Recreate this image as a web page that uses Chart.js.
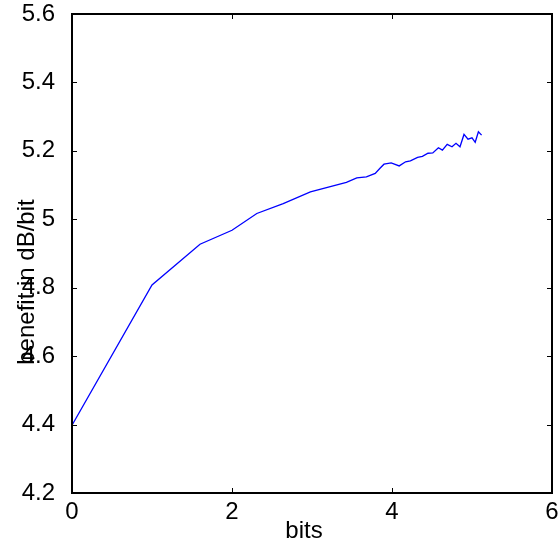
<!DOCTYPE html>
<html>
<head>
<meta charset="utf-8">
<script src="https://cdn.jsdelivr.net/npm/chart.js@4.4.1/dist/chart.umd.min.js"></script>
<style>
  html, body { margin: 0; padding: 0; background: #fff; }
  #wrap { width: 558px; height: 544px; position: relative; }
</style>
</head>
<body>
<div id="wrap"><canvas id="grafico"></canvas></div>
<script>
// dados
var bits = [0, 1, 1.6, 2, 2.31, 2.64, 2.98, 3.43, 3.56, 3.68, 3.79, 3.85, 3.9, 3.99, 4.09, 4.17, 4.23, 4.32, 4.38, 4.45, 4.51, 4.58, 4.63, 4.69, 4.75, 4.8, 4.85, 4.9, 4.95, 5.0, 5.04, 5.08, 5.12];
var beneficio = [4.398, 4.808, 4.927, 4.968, 5.017, 5.046, 5.08, 5.108, 5.121, 5.124, 5.134, 5.149, 5.161, 5.165, 5.156, 5.168, 5.171, 5.181, 5.184, 5.193, 5.194, 5.209, 5.202, 5.219, 5.212, 5.222, 5.212, 5.248, 5.234, 5.238, 5.225, 5.256, 5.246];
var xTicks = [0, 2, 4, 6];
var yTicks = [4.2, 4.4, 4.6, 4.8, 5, 5.2, 5.4, 5.6];

var pontos = bits.map(function (b, i) { return { x: b, y: beneficio[i] }; });

var fonte = "'Liberation Sans', Arial, Helvetica, sans-serif";

// moldura, ticks para dentro e titulos dos eixos (estilo matlab)
var moldura = {
  id: "moldura",
  afterDraw: function (chart) {
    var ctx = chart.ctx;
    var a = chart.chartArea;
    var sx = chart.scales.x, sy = chart.scales.y;
    var tl = 5;
    ctx.save();
    ctx.strokeStyle = "#000";
    ctx.lineWidth = 1;
    ctx.beginPath();
    xTicks.forEach(function (v) {
      var px = Math.round(sx.getPixelForValue(v)) + 0.5;
      ctx.moveTo(px, a.bottom); ctx.lineTo(px, a.bottom - tl);
      ctx.moveTo(px, a.top); ctx.lineTo(px, a.top + tl);
    });
    yTicks.forEach(function (v) {
      var py = Math.round(sy.getPixelForValue(v)) + 0.5;
      ctx.moveTo(a.left, py); ctx.lineTo(a.left + tl, py);
      ctx.moveTo(a.right, py); ctx.lineTo(a.right - tl, py);
    });
    ctx.stroke();
    ctx.lineWidth = 2;
    ctx.strokeRect(a.left, a.top, a.right - a.left, a.bottom - a.top);

    ctx.fillStyle = "#000";
    ctx.font = "24px " + fonte;
    ctx.textAlign = "center";
    ctx.textBaseline = "alphabetic";
    ctx.fillText("bits", 304, 538);
    ctx.translate(34, 282);
    ctx.rotate(-Math.PI / 2);
    ctx.fillText("benefit in dB/bit", 0, 0);
    ctx.restore();
  }
};

new Chart(document.getElementById("grafico"), {
  type: "scatter",
  data: {
    datasets: [{
      data: pontos,
      showLine: true,
      borderColor: "#0000ff",
      borderWidth: 1.3,
      pointRadius: 0,
      tension: 0
    }]
  },
  options: {
    responsive: true,
    maintainAspectRatio: false,
    animation: false,
    layout: { padding: { top: 14, right: 6, left: 0, bottom: 0 } },
    plugins: { legend: { display: false }, tooltip: { enabled: false } },
    scales: {
      x: {
        type: "linear",
        min: 0, max: 6,
        afterFit: function (s) {
          s.height = 51;
          s.paddingLeft = 0; s.paddingRight = 0;
        },
        afterBuildTicks: function (s) { s.ticks = xTicks.map(function (v) { return { value: v }; }); },
        grid: { display: false },
        border: { display: false },
        ticks: {
          color: "#000",
          font: { family: fonte, size: 24 },
          padding: -3,
          maxRotation: 0,
          callback: function (v) { return String(v); }
        }
      },
      y: {
        type: "linear",
        min: 4.2, max: 5.6,
        afterFit: function (s) {
          s.width = 72;
          s.paddingTop = 0; s.paddingBottom = 0;
        },
        afterBuildTicks: function (s) { s.ticks = yTicks.map(function (v) { return { value: v }; }); },
        grid: { display: false },
        border: { display: false },
        ticks: {
          color: "#000",
          font: { family: fonte, size: 24 },
          padding: 9,
          callback: function (v) { return String(+Number(v).toFixed(1)); }
        }
      }
    }
  },
  plugins: [moldura]
});
</script>
</body>
</html>
